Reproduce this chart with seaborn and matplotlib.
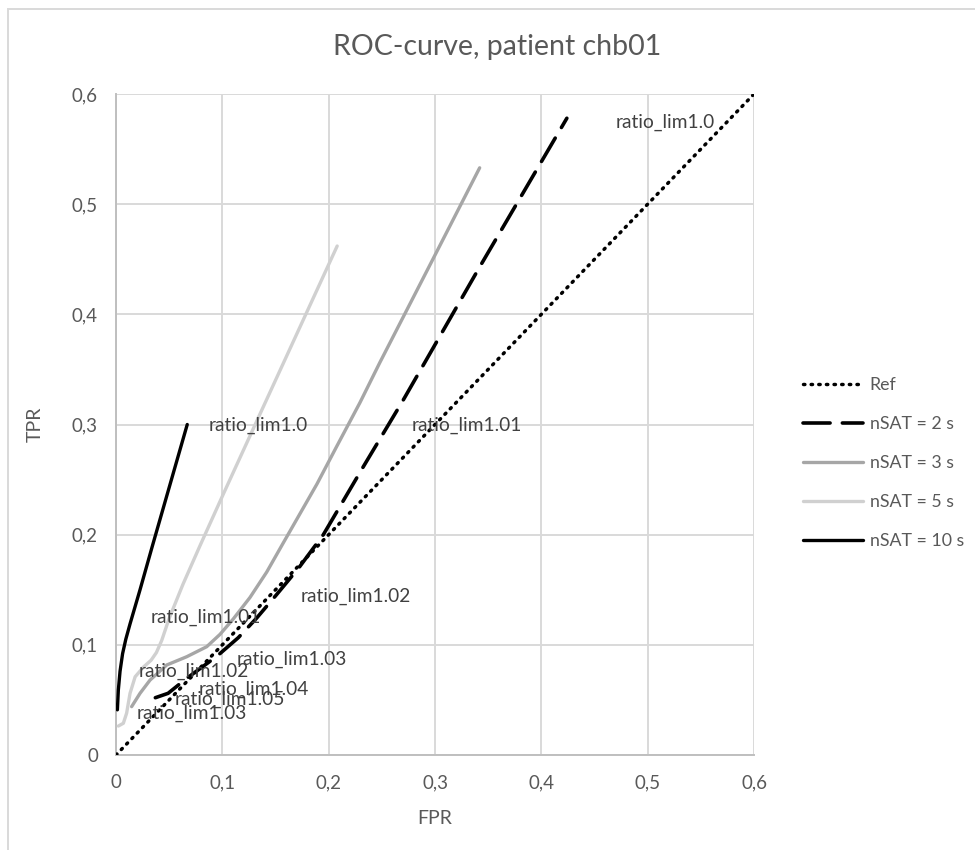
import matplotlib
matplotlib.use("Agg")
import matplotlib.pyplot as plt
import seaborn as sns
import pandas as pd
from matplotlib.patches import Rectangle
from matplotlib.lines import Line2D

# ---- data ----
ref_fpr = [0.0, 0.6]
ref_tpr = [0.0, 0.6]

n2_fpr = [0.037, 0.049, 0.0665, 0.0947, 0.115, 0.132, 0.1505, 0.172, 0.195, 0.2326, 0.270, 0.342, 0.424]
n2_tpr = [0.052, 0.056, 0.0696, 0.0895, 0.1065, 0.124, 0.145, 0.170, 0.200, 0.2617, 0.322, 0.443, 0.578]

n3_fpr = [0.0147, 0.0226, 0.032, 0.0477, 0.0665, 0.0853, 0.0978, 0.1103, 0.126, 0.1417, 0.157,
          0.189, 0.2075, 0.2295, 0.248, 0.298, 0.342]
n3_tpr = [0.0439, 0.056, 0.068, 0.0817, 0.0892, 0.0983, 0.1095, 0.1235, 0.1430, 0.166, 0.192,
          0.2460, 0.280, 0.320, 0.356, 0.450, 0.533]

n5_fpr = [0.0022, 0.0069, 0.010, 0.0132, 0.018, 0.026, 0.033, 0.038, 0.043, 0.050, 0.063, 0.079,
          0.101, 0.1385, 0.208]
n5_tpr = [0.0263, 0.0288, 0.038, 0.056, 0.071, 0.080, 0.086, 0.093, 0.104, 0.124, 0.155, 0.190,
          0.237, 0.316, 0.462]

n10_fpr = [0.0013, 0.0022, 0.0038, 0.0062, 0.0092, 0.0132, 0.0226, 0.034, 0.067]
n10_tpr = [0.041, 0.059, 0.076, 0.092, 0.105, 0.119, 0.150, 0.189, 0.300]

series_names = ["Ref", "nSAT = 2 s", "nSAT = 3 s", "nSAT = 5 s", "nSAT = 10 s"]

label_texts = ["ratio_lim1.0", "ratio_lim1.0", "ratio_lim1.01", "ratio_lim1.02", "ratio_lim1.01",
               "ratio_lim1.03", "ratio_lim1.02", "ratio_lim1.04", "ratio_lim1.05", "ratio_lim1.03"]
label_x = [0.517, 0.1335, 0.330, 0.2257, 0.0846, 0.1655, 0.0734, 0.1298, 0.1072, 0.0715]
label_y = [0.574, 0.2995, 0.2995, 0.1443, 0.1253, 0.0871, 0.0762, 0.0599, 0.0508, 0.0381]

ticks = [0, 0.1, 0.2, 0.3, 0.4, 0.5, 0.6]
tick_labels = ["0", "0,1", "0,2", "0,3", "0,4", "0,5", "0,6"]

# ---- styling ----
sns.set_theme(style="white")
plt.rcParams["font.family"] = ["Lato", "DejaVu Sans"]
TXT = "#595959"

fig = plt.figure(figsize=(9.75, 8.5), dpi=100)
ax = fig.add_axes([116/975, 1-755/850, 638/975, 661/850])

frames = []
for name, xs, ys in zip(series_names,
                        [ref_fpr, n2_fpr, n3_fpr, n5_fpr, n10_fpr],
                        [ref_tpr, n2_tpr, n3_tpr, n5_tpr, n10_tpr]):
    frames.append(pd.DataFrame({"FPR": xs, "TPR": ys, "series": name}))
df = pd.concat(frames, ignore_index=True)

colors = {"Ref": "black", "nSAT = 2 s": "black", "nSAT = 3 s": "#a6a6a6",
          "nSAT = 5 s": "#d0d0d0", "nSAT = 10 s": "black"}
styles = {"Ref": dict(lw=2.5, ls=(0, (0.4, 1.8)), dash_capstyle="round"),
          "nSAT = 2 s": dict(lw=2.6, ls=(0, (7.5, 3.4)), dash_capstyle="round"),
          "nSAT = 3 s": dict(lw=2.4, ls="-"),
          "nSAT = 5 s": dict(lw=2.4, ls="-"),
          "nSAT = 10 s": dict(lw=2.4, ls="-")}

handles = []
for name in series_names:
    sub = df[df["series"] == name]
    sns.lineplot(data=sub, x="FPR", y="TPR", sort=False, estimator=None,
                 color=colors[name], ax=ax, legend=False, zorder=3,
                 solid_capstyle="round", solid_joinstyle="round", **styles[name])
    handles.append(Line2D([], [], color=colors[name], **styles[name]))

for t, x, y in zip(label_texts, label_x, label_y):
    ax.text(x, y, t, ha="center", va="center", fontsize=13.8, color="#404040", zorder=4)

ax.set_xlim(0, 0.6)
ax.set_ylim(0, 0.6)
ax.set_xticks(ticks)
ax.set_yticks(ticks)
ax.set_xticklabels(tick_labels)
ax.set_yticklabels(tick_labels)
ax.tick_params(axis="both", length=0, labelsize=13.5, labelcolor=TXT)
ax.tick_params(axis="x", pad=14)
ax.tick_params(axis="y", pad=13)
ax.grid(True, color="#d9d9d9", lw=1.4)
ax.set_axisbelow(True)
for s in ["top", "right"]:
    ax.spines[s].set_visible(False)
for s in ["left", "bottom"]:
    ax.spines[s].set_color("#bfbfbf")
    ax.spines[s].set_linewidth(1.4)
ax.set_xlabel("")
ax.set_ylabel("")

fig.text(435/975, 1-818/850, "FPR", ha="center", va="center", fontsize=14, color=TXT)
fig.text(35/975, 1-424/850, "TPR", ha="center", va="center", rotation=90, fontsize=14, color=TXT)
fig.text(497/975, 1-55/850, "ROC-curve, patient chb01", ha="center", va="baseline",
         fontsize=20.5, color=TXT)

fig.legend(handles, series_names, loc="center left", bbox_to_anchor=(787/975, 1-463/850),
           frameon=False, fontsize=12.8, handlelength=3.4, handletextpad=0.35,
           labelspacing=1.3, labelcolor=TXT, borderpad=0.4)

# chart-area border
fig.patches.append(Rectangle((8/975, -0.1), 1.2, 1-9/850+0.1, transform=fig.transFigure,
                             fill=False, edgecolor="#d9d9d9", lw=1.4, zorder=0))

fig.savefig("out.png", dpi=100, facecolor="white")
